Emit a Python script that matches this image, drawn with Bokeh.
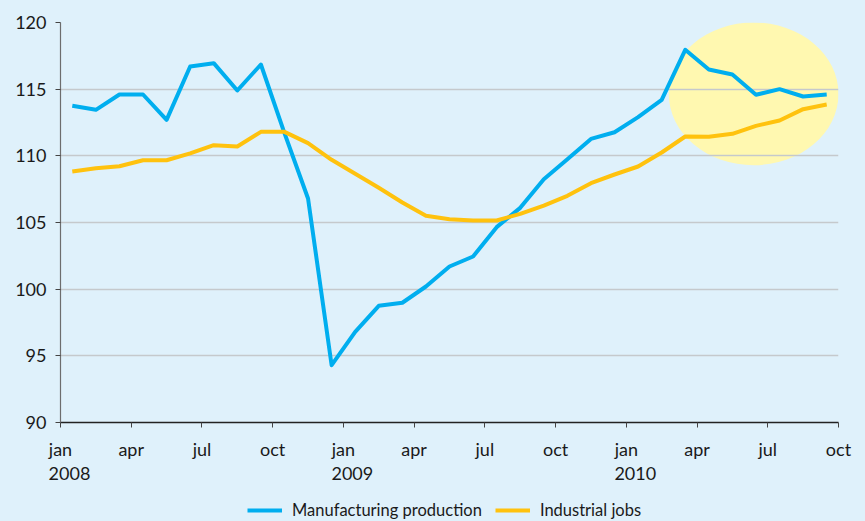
from bokeh.plotting import figure
from bokeh.layouts import column
from bokeh.models import (Range1d, FixedTicker, Legend, LegendItem, LinearAxis,
                          GlobalInlineStyleSheet)
from bokeh.embed import file_html
from bokeh.resources import INLINE
import numpy as np

# ---- data (Jan 2008 .. Sep 2010, monthly index) ----
month_labels = ["jan", "apr", "jul", "oct",
                "jan", "apr", "jul", "oct",
                "jan", "apr", "jul", "oct"]
year_labels = ["2008", "2009", "2010"]

manufacturing = [113.75, 113.45, 114.6, 114.6, 112.7, 116.7, 116.95, 114.9,
                 116.85, 111.7, 106.8, 94.3, 96.8, 98.75, 98.98, 100.2,
                 101.7, 102.45, 104.65, 106.1, 108.25, 109.75, 111.27, 111.77,
                 112.9, 114.2, 117.95, 116.47, 116.1, 114.58, 115.0, 114.45,
                 114.6]

industrial_jobs = [108.83, 109.07, 109.22, 109.67, 109.67, 110.18, 110.8,
                   110.7, 111.8, 111.8, 110.95, 109.7, 108.65, 107.6, 106.5,
                   105.5, 105.25, 105.15, 105.15, 105.65, 106.27, 107.0,
                   107.95, 108.6, 109.2, 110.25, 111.45, 111.43, 111.65,
                   112.25, 112.65, 113.5, 113.85]

series_names = ["Manufacturing production", "Industrial jobs"]

highlight_x = [25.8, 33.0]   # months spanned by highlight
highlight_y = [109.3, 120.0]  # values spanned by highlight

BG = "#dff1fb"
BLUE = "#00aeef"
YELLOW = "#ffc20e"
FONT = "Lato"
TXT = "#1a1a1a"

x = np.arange(len(manufacturing)) + 0.5
n_months = 33

p = figure(width=865, height=499, output_backend="svg", toolbar_location=None,
           x_range=Range1d(0, n_months), y_range=Range1d(90, 120),
           min_border_left=60, min_border_right=27,
           min_border_top=22, min_border_bottom=77)

p.background_fill_color = BG
p.border_fill_color = BG
p.outline_line_color = None

# highlight ellipse (drawn below the grid)
el = p.ellipse(x=[sum(highlight_x) / 2], y=[sum(highlight_y) / 2],
               width=highlight_x[1] - highlight_x[0],
               height=highlight_y[1] - highlight_y[0],
               fill_color="#fff8b0", line_color=None)
el.level = "image"

p.line(x, manufacturing, line_color=BLUE, line_width=4, line_join="round")
p.line(x, industrial_jobs, line_color=YELLOW, line_width=4, line_join="round")

# grid
p.xgrid.visible = False
p.ygrid.ticker = FixedTicker(ticks=[95, 100, 105, 110, 115, 120])
p.ygrid.grid_line_color = "#c5c9cc"
p.ygrid.grid_line_width = 1.5

# y axis
ya = p.yaxis[0]
ya.ticker = FixedTicker(ticks=list(range(90, 121, 5)))
ya.axis_line_color = "#6d6d6d"
ya.axis_line_width = 1.2
ya.major_tick_line_color = "#444444"
ya.major_tick_out = 5
ya.major_tick_in = 0
ya.minor_tick_line_color = None
ya.major_label_standoff = 9
ya.major_label_text_font = FONT
ya.major_label_text_font_size = "18px"
ya.major_label_text_color = TXT

# x axis (months)
xa = p.xaxis[0]
ticks = list(range(0, n_months + 1, 3))
xa.ticker = FixedTicker(ticks=ticks)
xa.major_label_overrides = {t: lab for t, lab in zip(ticks, month_labels)}
xa.axis_line_color = "#222222"
xa.axis_line_width = 1.5
xa.major_tick_line_color = "#444444"
xa.major_tick_out = 5
xa.major_tick_in = 0
xa.minor_tick_line_color = None
xa.major_label_standoff = 10
xa.major_label_text_font = FONT
xa.major_label_text_font_size = "18px"
xa.major_label_text_color = TXT

# year row: a second axis on a slightly shifted range so years sit under "jan"
p.extra_x_ranges = {"years": Range1d(-0.38, n_months - 0.38)}
year_ticks = [0, 12, 24]
ya2 = LinearAxis(x_range_name="years", ticker=FixedTicker(ticks=year_ticks),
                 major_label_overrides={t: lab for t, lab in zip(year_ticks, year_labels)},
                 axis_line_color=None, major_tick_line_color=None,
                 minor_tick_line_color=None, major_tick_out=0, major_tick_in=0,
                 major_label_standoff=4, major_label_text_font=FONT,
                 major_label_text_font_size="18px", major_label_text_color=TXT)
p.add_layout(ya2, "below")

# legend strip (key lines only; their points lie outside the strip's ranges)
lg = figure(width=865, height=22, output_backend="svg", toolbar_location=None,
            x_range=Range1d(0, 1), y_range=Range1d(0, 1),
            x_axis_type=None, y_axis_type=None,
            min_border_left=0, min_border_right=0,
            min_border_top=0, min_border_bottom=0)
lg.background_fill_color = BG
lg.border_fill_color = BG
lg.outline_line_color = None
lg.grid.visible = False
k1 = lg.line(x=[-2, -1], y=[-2, -1], line_color=BLUE, line_width=4)
k2 = lg.line(x=[-2, -1], y=[-2, -1], line_color=YELLOW, line_width=4)

legend = Legend(items=[LegendItem(label=series_names[0], renderers=[k1]),
                       LegendItem(label=series_names[1], renderers=[k2])],
                orientation="horizontal", location=(187, 1),
                padding=0, margin=0, spacing=13, label_standoff=10,
                glyph_width=35, glyph_height=20, label_height=20,
                label_text_font=FONT, label_text_font_size="16.5px",
                label_text_color=TXT, label_text_baseline="middle",
                border_line_color=None, background_fill_alpha=0)
lg.add_layout(legend, "center")

page = column(p, lg, spacing=0)
page.stylesheets = [GlobalInlineStyleSheet(
    css=f"html, body {{ margin: 0; padding: 0; background: {BG}; overflow: hidden; }}")]

open("out.html", "w").write(file_html(page, INLINE))
